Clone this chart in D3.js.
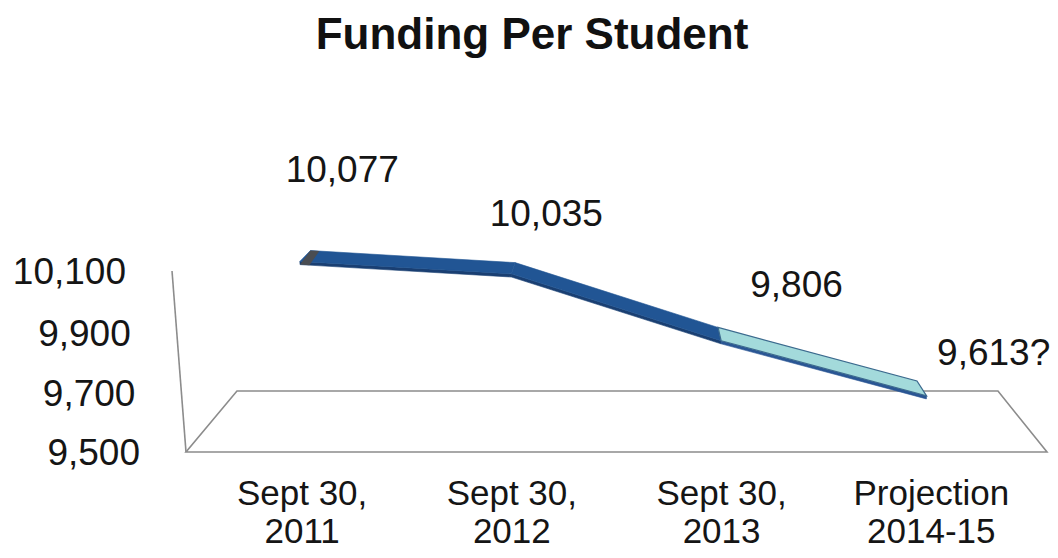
<!DOCTYPE html>
<html>
<head>
<meta charset="utf-8">
<script src="https://cdn.jsdelivr.net/npm/d3@7"></script>
<style>
  html, body { margin: 0; padding: 0; background: #ffffff; }
  svg { display: block; font-family: "Liberation Sans", Arial, sans-serif; }
</style>
</head>
<body>
<svg id="chart" width="1058" height="558"></svg>
<script>
// ---- data ----
const categories = [["Sept 30,", "2011"], ["Sept 30,", "2012"], ["Sept 30,", "2013"], ["Projection", "2014-15"]];
const values = [10077, 10035, 9806, 9613];
const projected = [false, false, false, true];
const yTicks = [9500, 9700, 9900, 10100];
const title = "Funding Per Student";

// label nudges (screen px) relative to each projected point
const labelNudge = [[37, -87], [33, -55], [77, -50], [72, -36]];

const svg = d3.select("#chart");

// normalized 3D space: u across categories, v up (value), w into depth
const u = d3.scaleBand().domain(d3.range(categories.length)).range([0, 1]);
const uc = i => u(i) + u.bandwidth() / 2;
const v = d3.scaleLinear().domain([9500, 10100]).range([0, 1]);

// simple perspective camera fitted to the box
const cam = { x0: 186, xu: 861, xw: 82.1, xv: -19.4, y0: 452, yw: -9.6, yv: -189.5, dw: 0.1314, dv: -0.0315 };
function P(uu, vv, ww) {
  const den = 1 + cam.dw * ww + cam.dv * vv;
  return [
    (cam.x0 + cam.xu * uu + cam.xw * ww + cam.xv * vv) / den,
    (cam.y0 + cam.yw * ww + cam.yv * vv) / den
  ];
}
const poly = pts => "M" + pts.map(p => p[0].toFixed(2) + "," + p[1].toFixed(2)).join("L") + "Z";

// ---- title ----
svg.append("text")
  .attr("x", 532).attr("y", 49)
  .attr("text-anchor", "middle")
  .attr("font-size", 44).attr("font-weight", "bold")
  .attr("fill", "#111")
  .text(title);

// ---- floor and wall edge ----
const edge = "#8c8c8c";
svg.append("path")
  .attr("d", poly([P(0, 0, 0), P(1, 0, 0), P(1, 0, 1), P(0, 0, 1)]))
  .attr("fill", "none").attr("stroke", edge).attr("stroke-width", 1.6);
const wallA = P(0, 0, 0), wallB = P(0, 1, 0);
svg.append("line")
  .attr("x1", wallA[0]).attr("y1", wallA[1]).attr("x2", wallB[0]).attr("y2", wallB[1])
  .attr("stroke", edge).attr("stroke-width", 1.6);

// ---- value axis labels ----
const fmt = d3.format(",");
svg.append("g").selectAll("text").data(yTicks).join("text")
  .attr("x", d => P(0, v(d), 0)[0] - 46)
  .attr("y", d => P(0, v(d), 0)[1] + 13)
  .attr("text-anchor", "end")
  .attr("font-size", 37).attr("fill", "#151515")
  .text(d => fmt(d));

// ---- category labels ----
const catG = svg.append("g");
categories.forEach((lines, i) => {
  const p = P(uc(i), 0, 0.2);
  const t = catG.append("text")
    .attr("text-anchor", "middle").attr("font-size", 35).attr("fill", "#151515");
  lines.forEach((s, k) => t.append("tspan").attr("x", p[0]).attr("y", 505 + k * 38).text(s));
});

// ---- ribbon ----
const w0 = 0.37, w1 = 0.63, thick = 0.018;
const rib = svg.append("g");
for (let i = 0; i < values.length - 1; i++) {
  const ua = uc(i), ub = uc(i + 1), va = v(values[i]), vb = v(values[i + 1]);
  const light = projected[i + 1];
  // front face
  rib.append("path")
    .attr("d", poly([P(ua, va, w0), P(ub, vb, w0), P(ub, vb - thick, w0), P(ua, va - thick, w0)]))
    .attr("fill", light ? "#2a5694" : "#1a3f72")
    .attr("stroke", light ? "#2a5694" : "#1a3f72").attr("stroke-width", 0.6);
  // top face
  rib.append("path")
    .attr("d", poly([P(ua, va, w0), P(ub, vb, w0), P(ub, vb, w1), P(ua, va, w1)]))
    .attr("fill", light ? "#a3dadb" : "#215594")
    .attr("stroke", light ? "#3c6a8e" : "#215594").attr("stroke-width", light ? 1.2 : 0.6);
}
// end cap at the start of the ribbon
{
  const ua = uc(0), va = v(values[0]);
  const ub = ua + 0.011, vb = va + (v(values[1]) - va) * (0.011 / (uc(1) - ua));
  rib.append("path")
    .attr("d", poly([P(ua, va - thick, w0), P(ub, vb - thick, w0), P(ub, vb, w1), P(ua, va, w1)]))
    .attr("fill", "#4a4d52");
}

// ---- data labels ----
svg.append("g").selectAll("text").data(values).join("text")
  .attr("x", (d, i) => P(uc(i), v(d), 0.5)[0] + labelNudge[i][0])
  .attr("y", (d, i) => P(uc(i), v(d), 0.5)[1] + labelNudge[i][1] + 13)
  .attr("text-anchor", "middle")
  .attr("font-size", 37).attr("fill", "#151515")
  .text((d, i) => fmt(d) + (projected[i] ? "?" : ""));
</script>
</body>
</html>
